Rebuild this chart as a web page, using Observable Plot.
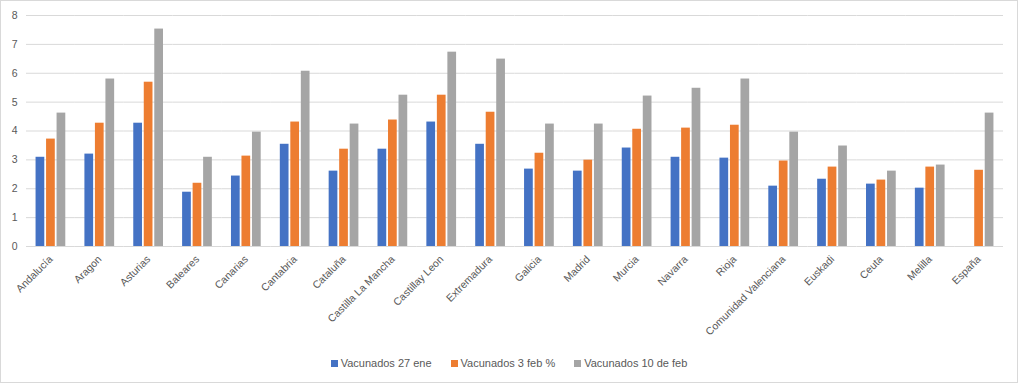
<!DOCTYPE html>
<html>
<head>
<meta charset="utf-8">
<script src="https://cdn.jsdelivr.net/npm/d3@7"></script>
<script src="https://cdn.jsdelivr.net/npm/@observablehq/plot@0.6"></script>
<style>
  html, body { margin: 0; padding: 0; background: #fff; }
  #wrap { position: relative; width: 1018px; height: 383px; font-family: "Liberation Sans", Arial, sans-serif; color: #595959; overflow: hidden; }
  #chart { position: absolute; left: 0; top: 0; }
  #border { position: absolute; left: 0; top: 0; width: 1016px; height: 381px; border: 1px solid #d9d9d9; pointer-events: none; }
  #legend { position: absolute; left: 0; width: 1018px; top: 357px; display: flex; justify-content: center; gap: 19px; font-size: 11px; }
  #legend .item { display: flex; align-items: center; gap: 3px; }
  #legend .sw { width: 7px; height: 7px; display: inline-block; }
</style>
</head>
<body>
<div id="wrap">
  <div id="chart"></div>
  <div id="legend"></div>
  <div id="border"></div>
</div>
<script>
const regions = ["Andalucía","Aragon","Asturias","Baleares","Canarias","Cantabria","Cataluña","Castilla La Mancha","Castillay Leon","Extremadura","Galicia","Madrid","Murcia","Navarra","Rioja","Comunidad Valenciana","Euskadi","Ceuta","Melilla","España"];
const seriesNames = ["Vacunados 27 ene","Vacunados 3 feb %","Vacunados 10 de feb"];
const seriesColors = ["#4472C4","#ED7D31","#A5A5A5"];
const vac27ene = [3.09,3.20,4.27,1.88,2.44,3.54,2.61,3.37,4.31,3.54,2.68,2.61,3.41,3.09,3.06,2.09,2.33,2.16,2.02,null];
const vac3feb  = [3.72,4.27,5.69,2.19,3.13,4.31,3.37,4.38,5.24,4.65,3.23,2.99,4.06,4.10,4.20,2.96,2.75,2.30,2.75,2.64];
const vac10feb = [4.62,5.80,7.53,3.09,3.96,6.07,4.24,5.24,6.73,6.49,4.24,4.24,5.21,5.48,5.80,3.96,3.48,2.61,2.82,4.62];
const yTicks = [0,1,2,3,4,5,6,7,8];

const seriesValues = [vac27ene, vac3feb, vac10feb];
const table = [];
regions.forEach((r, i) => {
  seriesNames.forEach((s, j) => {
    const v = seriesValues[j][i];
    if (v != null) table.push({region: r, series: s, value: v});
  });
});

const chart = Plot.plot({
  width: 1018,
  height: 345,
  marginLeft: 26,
  marginRight: 15,
  marginTop: 15,
  marginBottom: 99,
  style: {fontFamily: "Liberation Sans, Arial, sans-serif", fontSize: "10.5px", color: "#595959", background: "transparent"},
  fx: {domain: regions, padding: 0, round: false, label: null, tickRotate: -45, tickSize: 0, tickPadding: 11},
  x: {domain: seriesNames, axis: null, round: false, paddingInner: 0.17, paddingOuter: 0.91},
  y: {domain: [0, 8], ticks: yTicks, label: null, tickSize: 0, tickPadding: 9, tickFormat: d3.format("d")},
  color: {domain: seriesNames, range: seriesColors},
  marks: [
    Plot.gridY(yTicks, {stroke: "#d9d9d9", strokeOpacity: 1}),
    Plot.barY(table, {fx: "region", x: "series", y: "value", fill: "series"})
  ]
});
document.getElementById("chart").appendChild(chart);

const legend = document.getElementById("legend");
seriesNames.forEach((s, j) => {
  const it = document.createElement("div");
  it.className = "item";
  const sw = document.createElement("span");
  sw.className = "sw";
  sw.style.background = seriesColors[j];
  const t = document.createElement("span");
  t.textContent = s;
  it.appendChild(sw); it.appendChild(t);
  legend.appendChild(it);
});
</script>
</body>
</html>
